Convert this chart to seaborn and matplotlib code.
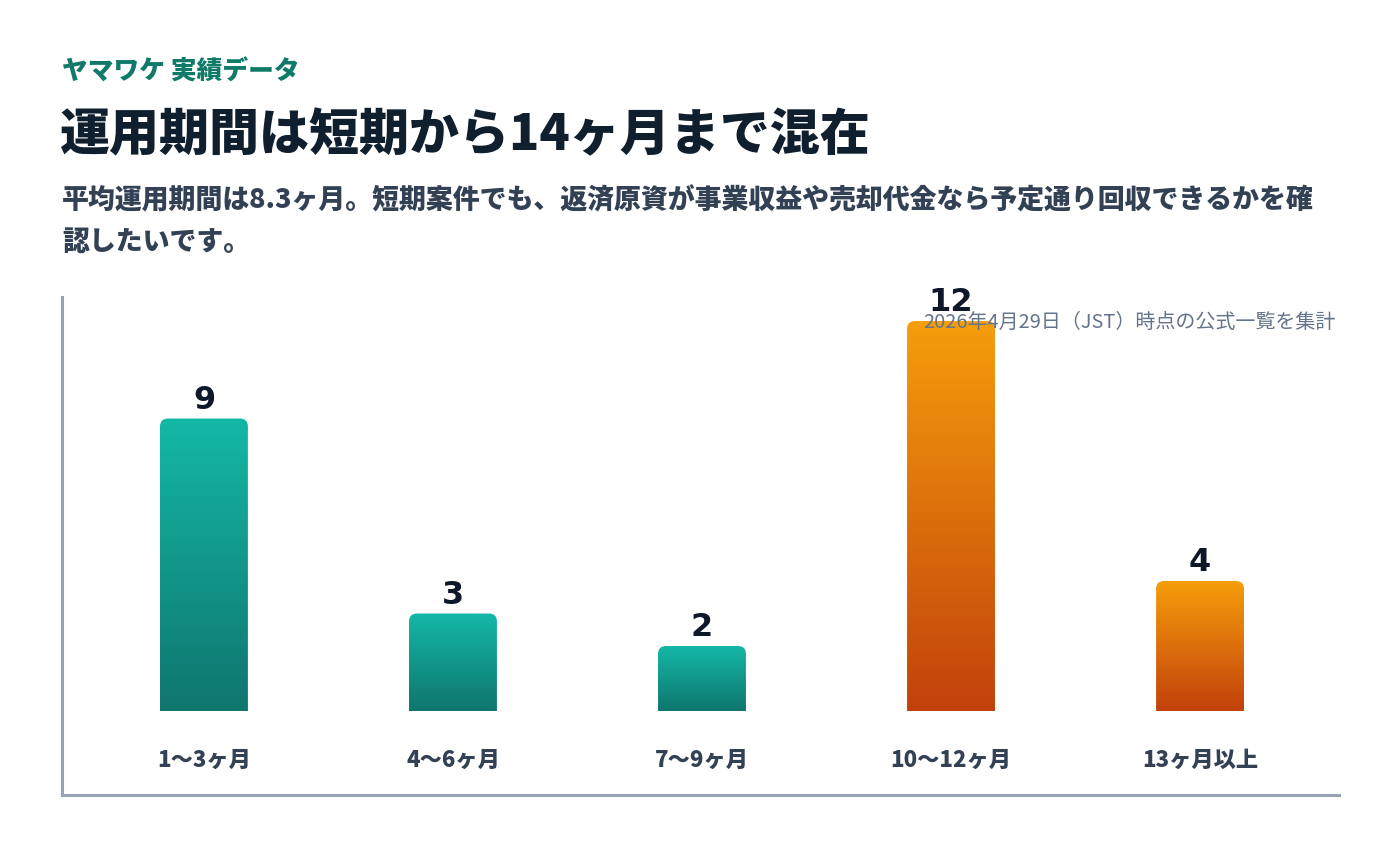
import numpy as np
import matplotlib
matplotlib.use("Agg")
import matplotlib.pyplot as plt
import seaborn as sns
from matplotlib.path import Path
from matplotlib.patches import PathPatch
from matplotlib.colors import to_rgb

# Data
categories = ["1〜3ヶ月", "4〜6ヶ月", "7〜9ヶ月", "10〜12ヶ月", "13ヶ月以上"]
counts = [9, 3, 2, 12, 4]
groups = ["short", "short", "short", "long", "long"]

kicker = "ヤマワケ 実績データ"
title = "運用期間は短期から14ヶ月まで混在"
subtitle_lines = [
    "平均運用期間は8.3ヶ月。短期案件でも、返済原資が事業収益や売却代金なら予定通り回収できるかを確",
    "認したいです。",
]
note = "2026年4月29日（JST）時点の公式一覧を集計"

# gradient colours (top, bottom)
GRAD = {"short": ("#14b8a6", "#0f766e"), "long": ("#f59e0b", "#c2410c")}

sns.set_theme(style="white")
plt.rcParams["font.family"] = ["Noto Sans CJK JP", "DejaVu Sans"]

fig = plt.figure(figsize=(14, 8.6), dpi=100)
ax = fig.add_axes([62 / 1400, 65 / 860, 1277 / 1400, 498 / 860])

sns.barplot(x=categories, y=counts, hue=groups, palette={"short": "#14b8a6", "long": "#f59e0b"},
            width=0.353, dodge=False, legend=False, ax=ax)

xlim = (-0.570, 4.558)
ylim = (-2.585, 12.74)


def rounded_top(x0, w, h, rx, ry):
    x1 = x0 + w
    verts = [(x0, 0), (x0, h - ry), (x0, h), (x0 + rx, h), (x1 - rx, h),
             (x1, h), (x1, h - ry), (x1, 0), (x0, 0)]
    codes = [Path.MOVETO, Path.LINETO, Path.CURVE3, Path.CURVE3, Path.LINETO,
             Path.CURVE3, Path.CURVE3, Path.LINETO, Path.CLOSEPOLY]
    return Path(verts, codes)


for patch in list(ax.patches):
    h = patch.get_height()
    if h <= 0:
        continue
    x0, w = patch.get_x(), patch.get_width()
    idx = int(round(x0 + w / 2))
    top, bot = (np.array(to_rgb(c)) for c in GRAD[groups[idx]])
    t = np.linspace(0, 1, 256)[:, None]
    grad = (top * (1 - t) + bot * t)[:, None, :]
    clip = PathPatch(rounded_top(x0, w, h, 0.032, 0.246), facecolor="none", edgecolor="none")
    ax.add_patch(clip)
    im = ax.imshow(grad, extent=[x0, x0 + w, 0, h], origin="upper", aspect="auto", zorder=2)
    im.set_clip_path(clip)
    patch.set_visible(False)
    ax.text(x0 + w / 2, h + 0.3, f"{int(h)}", ha="center", va="baseline",
            fontsize=23, fontweight="heavy", color="#0f172a", family="DejaVu Sans", zorder=3)
    ax.text(x0 + w / 2, -1.51, categories[idx], ha="center", va="center",
            fontsize=16, fontweight="heavy", color="#334155")

ax.set_xlim(*xlim)
ax.set_ylim(*ylim)
ax.set_xticks([])
ax.set_yticks([])
ax.set_xlabel("")
ax.set_ylabel("")
for s in ["top", "right"]:
    ax.spines[s].set_visible(False)
for s in ["left", "bottom"]:
    ax.spines[s].set_color("#94a3b8")
    ax.spines[s].set_linewidth(2.2)

ax.text(0.997, 0.950, note, transform=ax.transAxes, ha="right", va="center",
        fontsize=14.4, color="#64748b")

fig.text(62 / 1400, 1 - 72 / 860, kicker, ha="left", va="center",
         fontsize=18.5, fontweight="heavy", color="#0f7a68")
fig.text(60 / 1400, 1 - 135 / 860, title, ha="left", va="center",
         fontsize=36, fontweight="heavy", color="#0f1f2e")
for i, line in enumerate(subtitle_lines):
    fig.text(62 / 1400, 1 - (200 + 42 * i) / 860, line, ha="left", va="center",
             fontsize=19.4, fontweight="heavy", color="#334155")

fig.savefig("out.png", dpi=100, facecolor="white")
